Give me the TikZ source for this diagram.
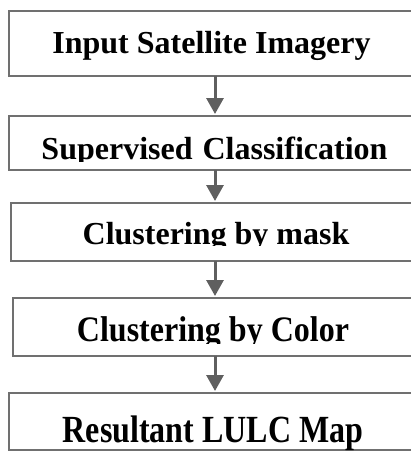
\documentclass[tikz,border=0pt]{standalone}
\usepackage{fontspec}
\setmainfont{Liberation Serif}
\usetikzlibrary{arrows.meta}
\definecolor{boxgray}{RGB}{112,112,112}
\definecolor{arrgray}{RGB}{95,95,95}
\tikzset{
  stepbox/.style={draw=boxgray, line width=2.6pt, rectangle, inner sep=0pt, outer sep=0pt, fill=white},
  steptext/.style={anchor=base, inner sep=0pt, font=\fontsize{32}{36}\selectfont\bfseries, text=black},
  flowarrow/.style={draw=arrgray, line width=3pt, -{Triangle[width=17pt,length=16pt]}, shorten >=2pt}
}
\begin{document}
\begin{tikzpicture}[x=1pt,y=-1pt]
\useasboundingbox (0,0) rectangle (411,451);
\clip (0,0) rectangle (411,451);
\coordinate (ax) at (215,0);
% boxes
\node[stepbox, minimum width=413pt, minimum height=65pt] (b1) at (215.5,43.5) {};
\node[stepbox, minimum width=413pt, minimum height=54pt] (b2) at (215.5,143) {};
\node[stepbox, minimum width=411pt, minimum height=58pt] (b3) at (216.5,232) {};
\node[stepbox, minimum width=409pt, minimum height=58pt] (b4) at (217.5,327) {};
\node[stepbox, minimum width=413pt, minimum height=57pt] (b5) at (215.5,421.5) {};
% texts
\node[steptext] (t1) at (211.5,53) {Input Satellite Imagery};
\begin{scope}
\clip (0,0) rectangle (411,161);
\node[steptext] (t2) at (214.5,159.5) {Supervised\hspace{2pt} Classification};
\end{scope}
\begin{scope}
\clip (0,0) rectangle (411,245.5);
\node[steptext] (t3) at (216,244) {Clustering by mask};
\end{scope}
\begin{scope}
\clip (0,0) rectangle (411,343.5);
\node[steptext, yscale=1.12] (t4) at (213,341) {Clustering by Color};
\end{scope}
\node[steptext, yscale=1.2] (t5) at (213,442) {Resultant LULC Map};
% arrows
\draw[flowarrow] (b1.south -| ax) -- (b2.north -| ax);
\draw[flowarrow] (b2.south -| ax) -- (b3.north -| ax);
\draw[flowarrow] (b3.south -| ax) -- (b4.north -| ax);
\draw[flowarrow] (b4.south -| ax) -- (b5.north -| ax);
\end{tikzpicture}
\end{document}
